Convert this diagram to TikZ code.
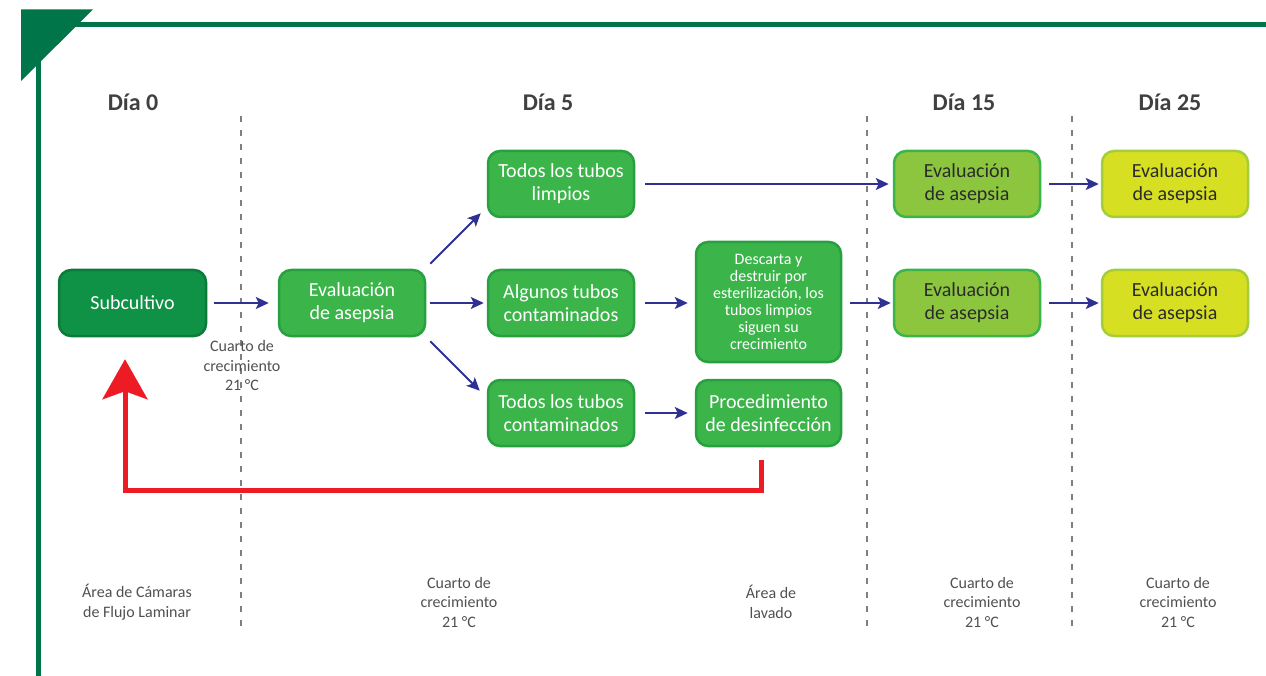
\documentclass[tikz,border=0pt]{standalone}
\usepackage{fontspec}
\setmainfont{Carlito}
\usetikzlibrary{arrows.meta,calc}
\definecolor{framegreen}{HTML}{00754A}
\definecolor{darkbox}{HTML}{0F9146}
\definecolor{darkboxb}{HTML}{0B7A3B}
\definecolor{midbox}{HTML}{3BB54A}
\definecolor{midboxb}{HTML}{28A040}
\definecolor{limebox}{HTML}{8CC63F}
\definecolor{limeboxb}{HTML}{3BB54A}
\definecolor{yelbox}{HTML}{D7DF23}
\definecolor{yelboxb}{HTML}{A3CD3A}
\definecolor{arrblue}{HTML}{2E3192}
\definecolor{arrred}{HTML}{ED1C24}
\definecolor{daygray}{HTML}{404040}
\definecolor{labgray}{HTML}{505050}
\definecolor{dashgray}{HTML}{7F7F7F}
\definecolor{boxtxt}{HTML}{2B2B2B}
\tikzset{
  boxbase/.style={rectangle, rounded corners=12pt, line width=2.5pt, inner sep=0pt,
    align=center, minimum width=146pt, minimum height=66pt,
    font=\fontsize{20}{23}\selectfont},
  subbox/.style={boxbase, fill=darkbox, draw=darkboxb, text=white},
  fivebox/.style={boxbase, fill=midbox, draw=midboxb, text=white},
  fifteenbox/.style={boxbase, fill=limebox, draw=limeboxb, text=boxtxt},
  twentyfivebox/.style={boxbase, fill=yelbox, draw=yelboxb, text=boxtxt},
  daylabel/.style={font=\fontsize{24}{28}\selectfont\bfseries, text=daygray, anchor=base, inner sep=0pt},
  smalllabel/.style={font=\fontsize{16}{19.5}\selectfont, text=labgray, align=center, inner sep=0pt},
  blueline/.style={draw=arrblue, line width=2pt, -{Stealth[length=13pt,width=12pt,inset=3pt]}},
  redline/.style={draw=arrred, line width=5pt, line join=miter, -{Stealth[length=40pt,width=45pt,inset=8pt]}},
  dashline/.style={draw=dashgray, line width=1.4pt, dash pattern=on 6pt off 8pt}
}
\begin{document}
\begin{tikzpicture}[x=1pt,y=1pt]
\useasboundingbox (0,0) rectangle (1266,-676);
% frame
\fill[framegreen] (21,-9.5) -- (93,-9.5) -- (21,-81) -- cycle;
\fill[framegreen] (75,-22) rectangle (1266,-27);
\fill[framegreen] (36,-60) rectangle (41,-676);
% dashed separators
\draw[dashline] (241,-116) -- (241,-630);
\draw[dashline] (867,-116) -- (867,-630);
\draw[dashline] (1072,-116) -- (1072,-630);
% day labels
\node[daylabel] (d0) at (133,-111) {Día 0};
\node[daylabel] (d5) at (548,-111) {Día 5};
\node[daylabel] (d15) at (964,-111) {Día 15};
\node[daylabel] (d25) at (1170,-111) {Día 25};
% boxes
\node[subbox, minimum width=147pt] (sub) at (132.5,-303) {Subcultivo};
\node[fivebox] (ev5) at (352,-303) {Evaluación\\de asepsia};
\node[fivebox] (lim) at (561,-184) {Todos los tubos\\limpios};
\node[fivebox] (alg) at (561,-303) {Algunos tubos\\contaminados};
\node[fivebox] (cont) at (561,-413) {Todos los tubos\\contaminados};
\node[fivebox, minimum width=145pt, minimum height=120pt, font=\fontsize{16}{17}\selectfont] (desc) at (768.5,-302) {Descarta y\\destruir por\\esterilización, los\\tubos limpios\\siguen su\\crecimiento};
\node[fivebox, minimum width=145pt] (proc) at (768.5,-413) {Procedimiento\\de desinfección};
\node[fifteenbox] (e15a) at (967,-184) {Evaluación\\de asepsia};
\node[fifteenbox] (e15b) at (967,-303) {Evaluación\\de asepsia};
\node[twentyfivebox] (e25a) at (1175,-184) {Evaluación\\de asepsia};
\node[twentyfivebox] (e25b) at (1175,-303) {Evaluación\\de asepsia};
% small labels
\node[smalllabel] (cuarto0) at (242,-365.5) {Cuarto de\\crecimiento\\21 °C};
\node[smalllabel] (lamin) at (137,-602) {Área de Cámaras\\de Flujo Laminar};
\node[smalllabel] (cuarto5) at (459,-602) {Cuarto de\\crecimiento\\21 °C};
\node[smalllabel] (lavado) at (771,-602) {Área de\\lavado};
\node[smalllabel] (cuarto15) at (982,-602) {Cuarto de\\crecimiento\\21 °C};
\node[smalllabel] (cuarto25) at (1178,-602) {Cuarto de\\crecimiento\\21 °C};
% blue arrows
\draw[blueline, shorten <=7pt, shorten >=9pt] (sub.east) -- (ev5.west);
\draw[blueline] ($(ev5.north east)+(4,5)$) -- ($(lim.south west)+(-6,5)$);
\draw[blueline, shorten <=4pt, shorten >=3pt] (ev5.east) -- (alg.west);
\draw[blueline] ($(ev5.south east)+(4,-4)$) -- ($(cont.north west)+(-7,-12)$);
\draw[blueline, shorten <=10pt, shorten >=4pt] (lim.east) -- (e15a.west);
\draw[blueline, shorten <=10pt, shorten >=7pt] (alg.east) -- (desc.west|-alg.east);
\draw[blueline, shorten <=10pt, shorten >=7pt] (cont.east) -- (proc.west);
\draw[blueline, shorten <=8pt, shorten >=2pt] (desc.east|-e15b.west) -- (e15b.west);
\draw[blueline, shorten <=8pt, shorten >=2pt] (e15a.east) -- (e25a.west);
\draw[blueline, shorten <=8pt, shorten >=2pt] (e15b.east) -- (e25b.west);
% red return arrow
\coordinate (rstart) at ($(proc.south)+(-7.5,-13)$);
\coordinate (rend) at ($(sub.south)+(-7.5,-22)$);
\draw[redline] (rstart) -- ++(0,-30) -| (rend);
\end{tikzpicture}
\end{document}
